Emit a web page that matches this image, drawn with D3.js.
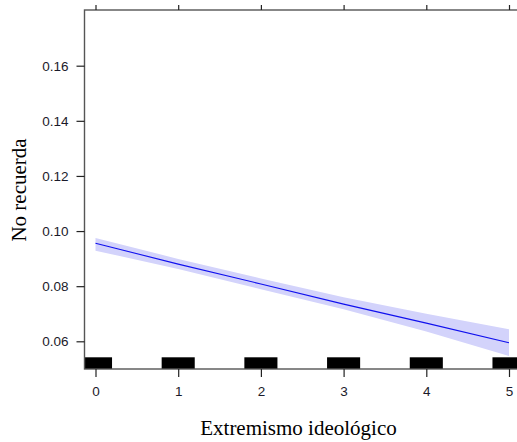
<!DOCTYPE html>
<html>
<head>
<meta charset="utf-8">
<script src="https://cdn.jsdelivr.net/npm/d3@7"></script>
<style>
  html, body { margin: 0; padding: 0; background: #fff; }
  svg { display: block; }
</style>
</head>
<body>
<svg id="chart" width="517" height="442"></svg>
<script>
// Predicted probability of "No recuerda" by ideological extremism, with 95% band
const xValues   = [0, 1, 2, 3, 4, 5];
const fitValues = [0.0956, 0.0880, 0.0808, 0.0735, 0.0666, 0.0595];
const lowerBand = [0.0929, 0.0862, 0.0789, 0.0716, 0.0636, 0.0547];
const upperBand = [0.0975, 0.0899, 0.0828, 0.0760, 0.0700, 0.0644];
const rugValues = [0, 1, 2, 3, 4, 5];
const xTicks    = [0, 1, 2, 3, 4, 5];
const yTicks    = [0.06, 0.08, 0.10, 0.12, 0.14, 0.16];

const svg = d3.select("#chart");

const box = { left: 84.5, top: 10, right: 535, bottom: 369 };

const x = d3.scaleLinear().domain([0, 5]).range([95.5, 509]);
const y = d3.scaleLinear().domain([0.06, 0.16]).range([341.3, 65.7]);

const rows = xValues.map((v, i) => ({ x: v, fit: fitValues[i], lo: lowerBand[i], hi: upperBand[i] }));

svg.append("clipPath").attr("id", "plotClip")
  .append("rect")
  .attr("x", box.left).attr("y", box.top)
  .attr("width", box.right - box.left).attr("height", box.bottom - box.top);

const plot = svg.append("g").attr("clip-path", "url(#plotClip)");

// confidence band
plot.append("path")
  .datum(rows)
  .attr("fill", "#d3d3fb")
  .attr("stroke", "none")
  .attr("d", d3.area().x(d => x(d.x)).y0(d => y(d.lo)).y1(d => y(d.hi)));

// fitted line
plot.append("path")
  .datum(rows)
  .attr("fill", "none")
  .attr("stroke", "#1010ee")
  .attr("stroke-width", 1.1)
  .attr("d", d3.line().x(d => x(d.x)).y(d => y(d.fit)));

// rug of observed values (jittered)
plot.selectAll("rect.rug")
  .data(rugValues)
  .join("rect")
  .attr("class", "rug")
  .attr("x", d => x(d - 0.2))
  .attr("width", d => x(d + 0.2) - x(d - 0.2))
  .attr("y", box.bottom - 11.7)
  .attr("height", 11.7)
  .attr("fill", "#000");

// frame
svg.append("rect")
  .attr("x", box.left).attr("y", box.top)
  .attr("width", box.right - box.left).attr("height", box.bottom - box.top)
  .attr("fill", "none")
  .attr("stroke", "#555")
  .attr("stroke-width", 1.4);

const tickFont = "'Liberation Sans', Arial, sans-serif";

// bottom axis
const xAxis = d3.axisBottom(x).tickValues(xTicks).tickFormat(d3.format("d")).tickSize(8).tickPadding(9);
const gx = svg.append("g").attr("transform", `translate(0,${box.bottom})`).call(xAxis);
gx.select(".domain").remove();
gx.selectAll(".tick line").attr("stroke", "#222").attr("stroke-width", 1.2);
gx.selectAll(".tick text").attr("font-family", tickFont).attr("font-size", 13.5).attr("fill", "#1a1a2a");

// top axis (ticks only)
const xTop = d3.axisTop(x).tickValues(xTicks).tickFormat("").tickSize(5);
const gt = svg.append("g").attr("transform", `translate(0,${box.top})`).call(xTop);
gt.select(".domain").remove();
gt.selectAll(".tick line").attr("stroke", "#222").attr("stroke-width", 1.2);

// left axis
const yAxis = d3.axisLeft(y).tickValues(yTicks).tickFormat(d3.format(".2f")).tickSize(8).tickPadding(8);
const gy = svg.append("g").attr("transform", `translate(${box.left},0)`).call(yAxis);
gy.select(".domain").remove();
gy.selectAll(".tick line").attr("stroke", "#222").attr("stroke-width", 1.2);
gy.selectAll(".tick text").attr("font-family", tickFont).attr("font-size", 13.5).attr("fill", "#1a1a2a");

// axis titles
const titleFont = "'Liberation Serif', 'Times New Roman', serif";
svg.append("text")
  .attr("x", 298.5).attr("y", 435)
  .attr("text-anchor", "middle")
  .attr("font-family", titleFont).attr("font-size", 21)
  .attr("fill", "#000")
  .text("Extremismo ideológico");

svg.append("text")
  .attr("transform", "translate(25.5,190) rotate(-90)")
  .attr("text-anchor", "middle")
  .attr("font-family", titleFont).attr("font-size", 21)
  .attr("fill", "#000")
  .text("No recuerda");
</script>
</body>
</html>
